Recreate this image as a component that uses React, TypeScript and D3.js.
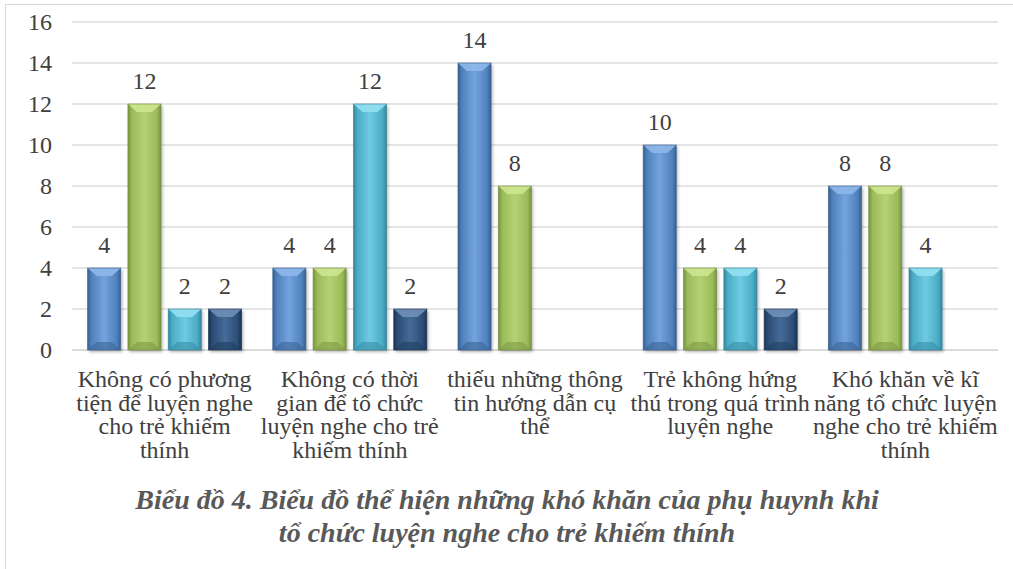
import React from "react";
import * as d3 from "d3";

// categories (line breaks as in the original chart)
const categories = [
  ["Không có phương", "tiện để luyện nghe", "cho trẻ khiếm", "thính"],
  ["Không có thời", "gian để tổ chức", "luyện nghe cho trẻ", "khiếm thính"],
  ["thiếu những thông", "tin hướng dẫn cụ", "thể"],
  ["Trẻ không hứng", "thú trong quá trình", "luyện nghe"],
  ["Khó khăn về kĩ", "năng tổ chức luyện", "nghe cho trẻ khiếm", "thính"],
];

// four unnamed series, null = no bar
const series1 = [4, 4, 14, 10, 8];
const series2 = [12, 4, 8, 4, 8];
const series3 = [2, 12, null, 4, 4];
const series4 = [2, 2, null, 2, null];

const yTicks = [0, 2, 4, 6, 8, 10, 12, 14, 16];

const titleLines = [
  "Biểu đồ 4. Biểu đồ thể hiện những khó khăn của phụ huynh khi",
  "tổ chức luyện nghe cho trẻ khiếm thính",
];

const palette = [
  { base: "#4f81bd", light: "#74a3dd", dark: "#385f8f", top: "#8fb8ea", bottom: "#3b6496" },
  { base: "#9bbb59", light: "#b5d275", dark: "#76913f", top: "#cde690", bottom: "#7e9a45" },
  { base: "#4bacc6", light: "#6fcbe2", dark: "#33869c", top: "#93e0f2", bottom: "#378ea6" },
  { base: "#2c4d75", light: "#456b99", dark: "#1b3352", top: "#6f8fb8", bottom: "#22405f" },
];

const W = 1013;
const H = 569;
const serif = "Liberation Serif, serif";

export default function App() {
  const allSeries = [series1, series2, series3, series4];

  const x = d3.scaleBand<number>().domain(d3.range(categories.length)).range([72, 998]).paddingInner(0).paddingOuter(0);
  const inner = d3
    .scaleBand<number>()
    .domain(d3.range(allSeries.length))
    .range([15.6, x.bandwidth() - 15.6])
    .paddingInner(0.18)
    .paddingOuter(0);
  const y = d3.scaleLinear().domain([0, 16]).range([350, 22]);

  const bw = inner.bandwidth();

  return (
    <div style={{ position: "absolute", left: 0, top: 0 }}>
      <svg width={W} height={H} style={{ display: "block" }}>
        <defs>
          {palette.map((p, i) => (
            <linearGradient key={i} id={`g${i}`} x1="0" x2="1" y1="0" y2="0">
              <stop offset="0" stopColor={p.dark} />
              <stop offset="0.12" stopColor={p.base} />
              <stop offset="0.5" stopColor={p.light} />
              <stop offset="0.88" stopColor={p.base} />
              <stop offset="1" stopColor={p.dark} />
            </linearGradient>
          ))}
          <filter id="sh" x="-20%" y="-5%" width="150%" height="115%">
            <feDropShadow dx="1.5" dy="2" stdDeviation="1.5" floodColor="#000" floodOpacity="0.3" />
          </filter>
        </defs>
        <rect x={0} y={0} width={W} height={H} fill="#fff" />
        <rect x={5.5} y={4.5} width={W + 20} height={H + 20} fill="none" stroke="#d9d9d9" strokeWidth={1} />

        {yTicks.map((t) => (
          <g key={t}>
            <line x1={72} x2={998} y1={y(t)} y2={y(t)} stroke={t === 0 ? "#cfcfcf" : "#dcdcdc"} strokeWidth={1.6} />
            <text x={52} y={y(t)} dy="0.35em" textAnchor="end" fontFamily={serif} fontSize={24} fill="#404040">
              {t}
            </text>
          </g>
        ))}

        {allSeries.map((s, si) =>
          s.map((v, ci) => {
            if (v == null) return null;
            const x0 = (x(ci) as number) + (inner(si) as number);
            const y0 = y(v);
            const y1 = y(0);
            const h = y1 - y0;
            const p = palette[si];
            const bev = Math.min(8, h / 3);
            const ins = Math.min(9, bw / 3);
            return (
              <g key={`${si}-${ci}`}>
                <rect x={x0} y={y0} width={bw} height={h} fill={`url(#g${si})`} filter="url(#sh)" />
                <polygon
                  points={`${x0},${y0} ${x0 + bw},${y0} ${x0 + bw - ins},${y0 + bev} ${x0 + ins},${y0 + bev}`}
                  fill={p.top}
                  opacity={0.9}
                />
                <polygon
                  points={`${x0},${y1} ${x0 + bw},${y1} ${x0 + bw - ins},${y1 - bev} ${x0 + ins},${y1 - bev}`}
                  fill={p.bottom}
                  opacity={0.6}
                />
                <rect x={x0} y={y0} width={bw} height={h} fill="none" stroke={p.dark} strokeWidth={0.8} opacity={0.8} />
                <text
                  x={x0 + bw / 2}
                  y={y0 - 15}
                  textAnchor="middle"
                  fontFamily={serif}
                  fontSize={24}
                  fill="#404040"
                >
                  {v}
                </text>
              </g>
            );
          })
        )}

        {categories.map((lines, ci) => (
          <text
            key={ci}
            x={(x(ci) as number) + x.bandwidth() / 2}
            y={387}
            textAnchor="middle"
            fontFamily={serif}
            fontSize={24}
            fill="#404040"
          >
            {lines.map((ln, li) => (
              <tspan key={li} x={(x(ci) as number) + x.bandwidth() / 2} dy={li === 0 ? 0 : 23.5}>
                {ln}
              </tspan>
            ))}
          </text>
        ))}

        {titleLines.map((ln, i) => (
          <text
            key={i}
            x={507}
            y={509 + i * 33}
            textAnchor="middle"
            fontFamily={serif}
            fontSize={28}
            fontWeight="bold"
            fontStyle="italic"
            fill="#595959"
          >
            {ln}
          </text>
        ))}
      </svg>
    </div>
  );
}
